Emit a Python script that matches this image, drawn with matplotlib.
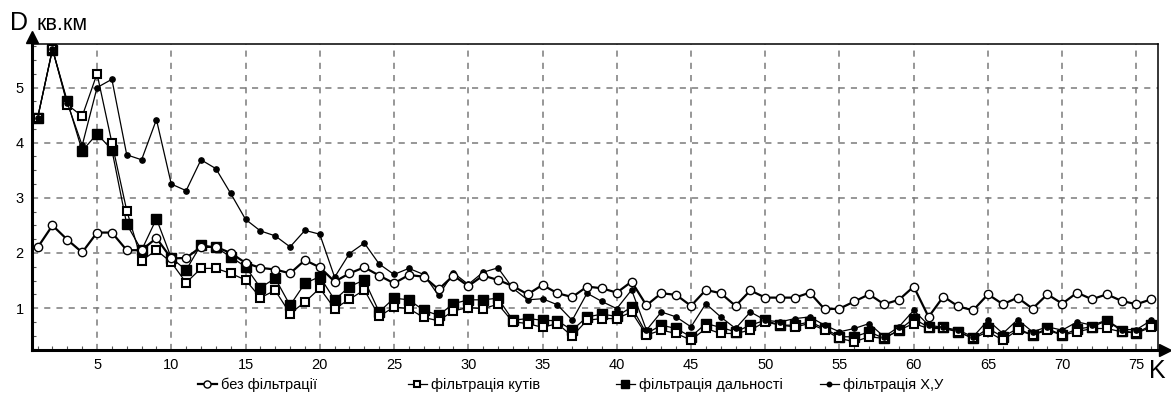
import matplotlib
matplotlib.use("Agg")
import matplotlib.pyplot as plt
import matplotlib.transforms as mtransforms
from matplotlib.ticker import MultipleLocator

plt.rcParams['font.family'] = ['Liberation Sans', 'DejaVu Sans']

k = list(range(1, 77))

no_filter = [2.10, 2.50, 2.24, 2.01, 2.37, 2.37, 2.05, 2.05, 2.27, 1.90,
             1.91, 2.11, 2.11, 2.00, 1.82, 1.73, 1.70, 1.63, 1.87, 1.74,
             1.48, 1.63, 1.74, 1.59, 1.45, 1.60, 1.57, 1.34, 1.59, 1.40,
             1.59, 1.51, 1.40, 1.25, 1.42, 1.27, 1.20, 1.39, 1.36, 1.28,
             1.48, 1.05, 1.27, 1.24, 1.04, 1.33, 1.27, 1.04, 1.32, 1.19,
             1.19, 1.19, 1.28, 0.98, 0.99, 1.12, 1.25, 1.07, 1.15, 1.39,
             0.84, 1.21, 1.03, 0.96, 1.25, 1.07, 1.19, 0.99, 1.25, 1.08,
             1.28, 1.16, 1.25, 1.13, 1.07, 1.16]

angle_filter = [4.45, 5.70, 4.69, 4.48, 5.25, 4.00, 2.77, 1.86, 2.05, 1.83,
                1.46, 1.72, 1.72, 1.63, 1.51, 1.19, 1.32, 0.90, 1.11, 1.36,
                0.99, 1.16, 1.33, 0.85, 1.02, 0.99, 0.83, 0.77, 0.95, 1.01,
                0.99, 1.07, 0.75, 0.72, 0.65, 0.72, 0.49, 0.78, 0.81, 0.81,
                0.93, 0.51, 0.60, 0.54, 0.42, 0.63, 0.54, 0.54, 0.60, 0.75,
                0.69, 0.66, 0.72, 0.60, 0.45, 0.39, 0.48, 0.45, 0.60, 0.72,
                0.63, 0.63, 0.57, 0.45, 0.57, 0.42, 0.60, 0.51, 0.60, 0.51,
                0.57, 0.63, 0.63, 0.57, 0.55, 0.65]

range_filter = [4.45, 5.69, 4.75, 3.85, 4.16, 3.87, 2.52, 2.05, 2.62, 1.91,
                1.69, 2.15, 2.10, 1.93, 1.75, 1.37, 1.54, 1.05, 1.45, 1.57,
                1.15, 1.39, 1.51, 0.93, 1.18, 1.15, 0.96, 0.87, 1.08, 1.15,
                1.15, 1.18, 0.78, 0.81, 0.78, 0.77, 0.60, 0.84, 0.89, 0.85,
                1.02, 0.54, 0.69, 0.63, 0.48, 0.72, 0.65, 0.57, 0.69, 0.78,
                0.69, 0.69, 0.75, 0.63, 0.48, 0.48, 0.57, 0.45, 0.60, 0.81,
                0.65, 0.65, 0.57, 0.45, 0.63, 0.48, 0.63, 0.51, 0.63, 0.51,
                0.62, 0.66, 0.77, 0.59, 0.55, 0.69]

xy_filter = [4.45, 5.70, 4.72, 3.95, 5.00, 5.15, 3.78, 3.69, 4.42, 3.25,
             3.13, 3.69, 3.53, 3.08, 2.61, 2.40, 2.31, 2.11, 2.41, 2.34,
             1.56, 1.99, 2.18, 1.80, 1.61, 1.72, 1.61, 1.23, 1.64, 1.43,
             1.65, 1.73, 1.36, 1.15, 1.17, 1.06, 0.78, 1.27, 1.12, 0.99,
             1.33, 0.60, 0.93, 0.84, 0.66, 1.08, 0.84, 0.63, 0.93, 0.78,
             0.75, 0.81, 0.84, 0.69, 0.57, 0.63, 0.72, 0.48, 0.66, 0.96,
             0.69, 0.65, 0.60, 0.48, 0.78, 0.54, 0.79, 0.57, 0.66, 0.60,
             0.75, 0.69, 0.78, 0.61, 0.61, 0.78]

labels = ["без фільтрації", "фільтрація кутів", "фільтрація дальності", "фільтрація X,У"]
x_ticks = list(range(5, 80, 5))
y_ticks = [1, 2, 3, 4, 5]

W, H = 1171, 398
fig = plt.figure(figsize=(W / 100, H / 100), dpi=100)
ax = fig.add_axes([32 / W, 1 - 350 / H, (1158 - 32) / W, (350 - 44) / H])

l3, = ax.plot(k, range_filter, color='black', lw=0.9, marker='s', ms=7.2,
              mfc='black', mec='black', zorder=3)
l2, = ax.plot(k, angle_filter, color='black', lw=0.9, marker='s', ms=5.6,
              mfc='white', mec='black', mew=1.5, zorder=4)
l4, = ax.plot(k, xy_filter, color='black', lw=0.9, marker='o', ms=3.8,
              mfc='black', mec='black', zorder=5)
l1, = ax.plot(k, no_filter, color='black', lw=1.6, marker='o', ms=6.0,
              mfc='white', mec='black', mew=1.0, zorder=6)

ax.set_xlim(0.62, 76.45)
ax.set_ylim(0.24, 5.79)
ax.set_xticks(x_ticks)
ax.set_yticks(y_ticks)
ax.xaxis.set_minor_locator(MultipleLocator(1))
ax.yaxis.set_minor_locator(MultipleLocator(0.25))
ax.tick_params(axis='both', which='major', direction='in', length=0, labelsize=10.5, pad=6)
ax.tick_params(axis='both', which='minor', direction='in', length=3, width=0.8, color='#555555')
ax.grid(True, which='major', color='#7a7a7a', linestyle=(0, (4, 4)), lw=1.1)

for s in ['left', 'bottom']:
    ax.spines[s].set_linewidth(2.2)
for s in ['top', 'right']:
    ax.spines[s].set_linewidth(1.1)

# axis arrows
t_up = mtransforms.offset_copy(ax.transAxes, fig=fig, x=0, y=7, units='dots')
ax.plot([0], [1], marker='^', ms=9, color='black', transform=t_up, clip_on=False, zorder=10)
t_right = mtransforms.offset_copy(ax.transAxes, fig=fig, x=7, y=0, units='dots')
ax.plot([1], [0], marker='>', ms=9, color='black', transform=t_right, clip_on=False, zorder=10)

fig.text(10 / W, 1 - 30 / H, "D", fontsize=18, ha='left', va='baseline')
fig.text(36 / W, 1 - 30 / H, "кв.км", fontsize=15.5, ha='left', va='baseline')
fig.text(1149 / W, 1 - 378 / H, "K", fontsize=18, ha='left', va='baseline')

# legend entries
leg_x = [198, 408, 616, 820]
handles = [l1, l2, l3, l4]
for h, lab, xp in zip(handles, labels, leg_x):
    fig.legend(handles=[h], labels=[lab], loc='center left',
               bbox_to_anchor=(xp / W, 1 - 385 / H), frameon=False,
               fontsize=10.5, handlelength=1.3, handletextpad=0.3,
               borderpad=0, borderaxespad=0, markerscale=0.85)

fig.savefig("out.png", dpi=100)
